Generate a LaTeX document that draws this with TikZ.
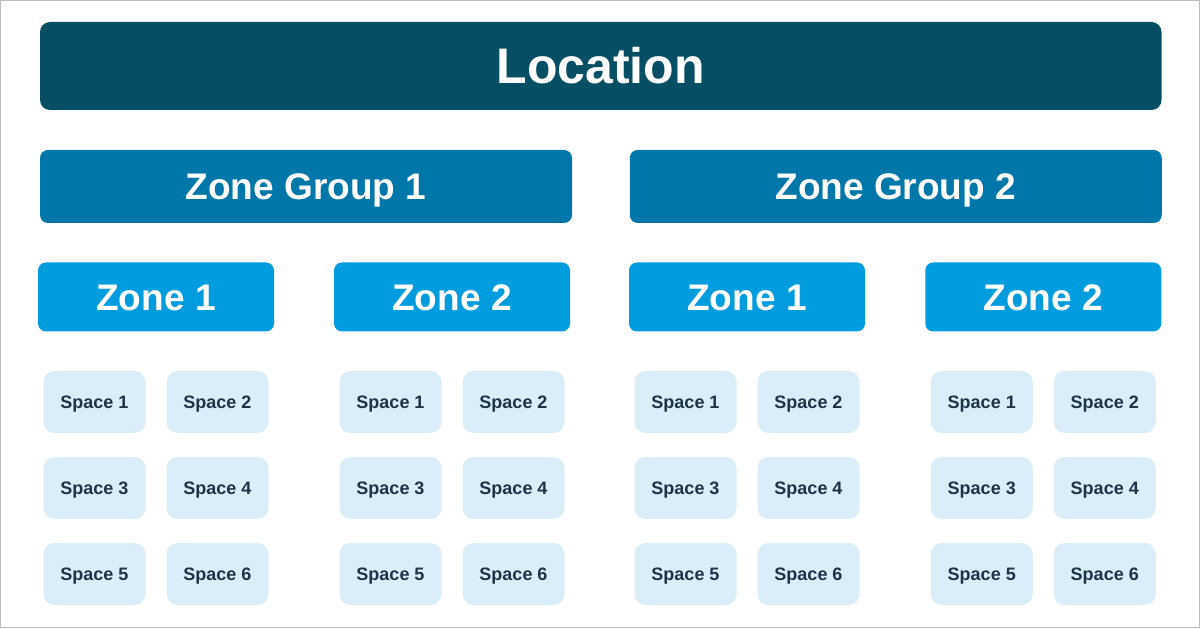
\documentclass[tikz,border=0pt]{standalone}
\usepackage{fontspec}
\setmainfont{Liberation Sans}
\definecolor{locteal}{HTML}{054E64}
\definecolor{groupblue}{HTML}{0077A8}
\definecolor{zoneblue}{HTML}{009CDE}
\definecolor{spacefill}{HTML}{D9EEF9}
\definecolor{spacetext}{HTML}{1F3347}
\definecolor{framegray}{HTML}{BDBDBD}
\tikzset{
  box/.style={rounded corners=8pt, inner sep=0pt, text=white},
  loc/.style={box, fill=locteal, rounded corners=10pt, minimum width=1121.5pt, minimum height=88pt,
    font=\fontsize{50}{50}\bfseries, text height=35.5pt, text depth=0pt},
  group/.style={box, fill=groupblue, minimum width=532pt, minimum height=73pt,
    font=\fontsize{37}{37}\bfseries, text height=26.5pt, text depth=0pt},
  zone/.style={box, fill=zoneblue, minimum width=236pt, minimum height=69pt,
    font=\fontsize{37}{37}\bfseries, text height=26.5pt, text depth=0pt},
  spacebox/.style={box, fill=spacefill, text=spacetext, rounded corners=11pt,
    minimum width=102pt, minimum height=62pt,
    font=\fontsize{18}{18}\bfseries, text height=12.9pt, text depth=0pt},
}
% six spaces below a zone: #1 = zone name, #2 = x of zone centre
\newcommand{\zonespaces}[2]{
  \foreach \i/\dx/\y in {1/-61.5/402, 2/61.5/402, 3/-61.5/488,
                         4/61.5/488, 5/-61.5/574, 6/61.5/574} {
    \node[spacebox] (#1s\i) at ({#2+\dx},\y) {Space \i};
  }
}

\begin{document}
\begin{tikzpicture}[x=1pt, y=-1pt]
\useasboundingbox (0,0) rectangle (1200,628);
\draw[fill=white, draw=framegray, line width=1pt] (0.5,0.5) rectangle (1199.5,627.5);
% top level
\node[loc] (location) at (600.75,66) {Location};
% zone groups
\node[group] (groupA) at (306,186.5) {Zone Group 1};
\node[group] (groupB) at (895.75,186.5) {Zone Group 2};
% zones
\node[zone] (zoneA1) at (156,297) {Zone 1};
\node[zone] (zoneA2) at (452,297) {Zone 2};
\node[zone] (zoneB1) at (747,297) {Zone 1};
\node[zone] (zoneB2) at (1043.25,297) {Zone 2};
% spaces
\zonespaces{zoneA1}{156}
\zonespaces{zoneA2}{452}
\zonespaces{zoneB1}{747}
\zonespaces{zoneB2}{1043.25}
\end{tikzpicture}
\end{document}
